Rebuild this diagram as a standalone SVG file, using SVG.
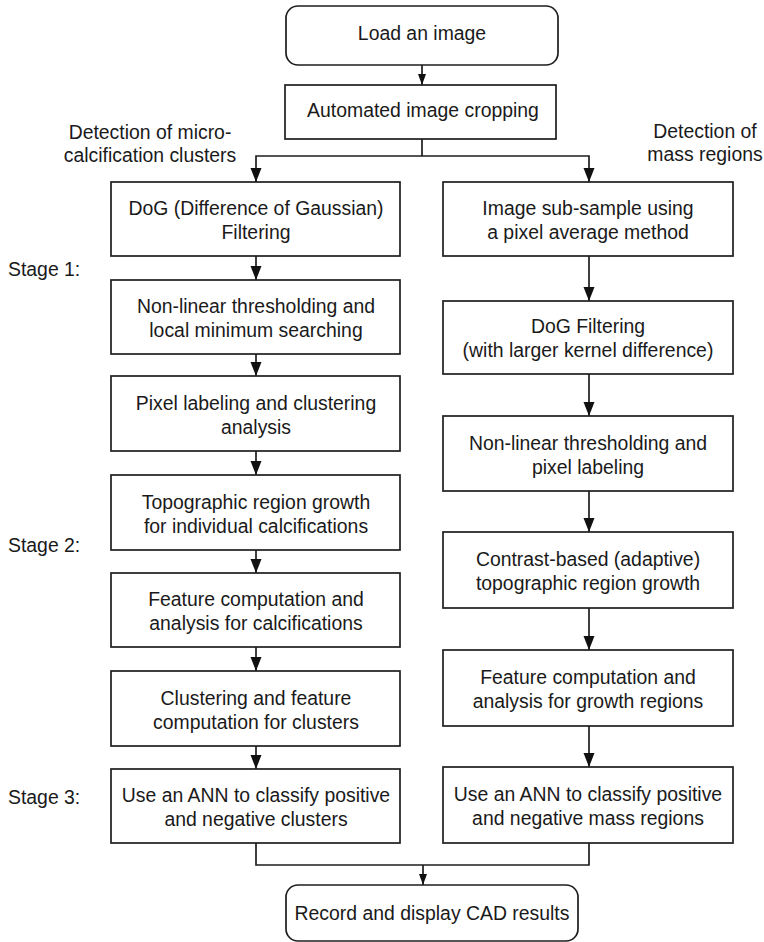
<svg xmlns="http://www.w3.org/2000/svg" width="764" height="942" viewBox="0 0 764 942">
<style>
.box{fill:#fff;stroke:#1e1e1e;stroke-width:1.7}
.t{font-family:"Liberation Sans",Arial,Helvetica,sans-serif;font-size:19.4px;fill:#1a1a1a;text-anchor:middle}
.l{font-family:"Liberation Sans",Arial,Helvetica,sans-serif;font-size:19.4px;fill:#1a1a1a}
.c{fill:none;stroke:#1e1e1e;stroke-width:1.7}
</style>
<defs>
<marker id="big" markerUnits="userSpaceOnUse" markerWidth="14" markerHeight="12" refX="14" refY="6" orient="auto">
<path d="M0,0.5 L14,6 L0,11.5 z" fill="#111"/>
</marker>
<marker id="small" markerUnits="userSpaceOnUse" markerWidth="11" markerHeight="9" refX="11" refY="4.5" orient="auto">
<path d="M0,0.5 L11,4.5 L0,8.5 z" fill="#111"/>
</marker>
</defs>
<rect width="764" height="942" fill="#fff"/>

<g id="connectors">
<path class="c" d="M422,65 V85" marker-end="url(#small)"/>
<path class="c" d="M422,139 V156"/>
<path class="c" d="M422,156 H256 V182" marker-end="url(#big)"/>
<path class="c" d="M422,156 H589 V182" marker-end="url(#big)"/>
<path class="c" d="M256,256 V280" marker-end="url(#big)"/>
<path class="c" d="M256,354 V376" marker-end="url(#big)"/>
<path class="c" d="M256,451 V475" marker-end="url(#big)"/>
<path class="c" d="M256,550 V573" marker-end="url(#big)"/>
<path class="c" d="M256,647 V671" marker-end="url(#big)"/>
<path class="c" d="M256,746 V769" marker-end="url(#big)"/>
<path class="c" d="M589,256 V301" marker-end="url(#big)"/>
<path class="c" d="M589,374 V416" marker-end="url(#big)"/>
<path class="c" d="M589,491 V532" marker-end="url(#big)"/>
<path class="c" d="M589,608 V650" marker-end="url(#big)"/>
<path class="c" d="M589,726 V767" marker-end="url(#big)"/>
<path class="c" d="M256,843 V865 H589 V843"/>
<path class="c" d="M423,865 V885" marker-end="url(#small)"/>
</g>

<g id="load">
<rect class="box" x="286" y="6" width="272" height="59" rx="12"/>
<text class="t" x="422" y="40">Load an image</text>
</g>
<g id="crop">
<rect class="box" x="285" y="85" width="271" height="54"/>
<text class="t" x="423" y="117">Automated image cropping</text>
</g>

<g id="label-micro">
<text class="t" x="150" y="139">Detection of micro-</text>
<text class="t" x="150" y="162">calcification clusters</text>
</g>
<g id="label-mass">
<text class="t" x="705" y="138">Detection of</text>
<text class="t" x="705" y="161">mass regions</text>
</g>

<g id="stage1"><text class="l" x="8" y="276">Stage 1:</text></g>
<g id="stage2"><text class="l" x="8" y="552">Stage 2:</text></g>
<g id="stage3"><text class="l" x="8" y="804">Stage 3:</text></g>

<g id="L1">
<rect class="box" x="111" y="182" width="289" height="74"/>
<text class="t" x="256" y="215">DoG (Difference of Gaussian)</text>
<text class="t" x="256" y="239">Filtering</text>
</g>
<g id="L2">
<rect class="box" x="111" y="280" width="289" height="74"/>
<text class="t" x="256" y="313">Non-linear thresholding and</text>
<text class="t" x="256" y="337">local minimum searching</text>
</g>
<g id="L3">
<rect class="box" x="111" y="376" width="289" height="75"/>
<text class="t" x="256" y="410">Pixel labeling and clustering</text>
<text class="t" x="256" y="434">analysis</text>
</g>
<g id="L4">
<rect class="box" x="111" y="475" width="289" height="75"/>
<text class="t" x="256" y="509">Topographic region growth</text>
<text class="t" x="256" y="533">for individual calcifications</text>
</g>
<g id="L5">
<rect class="box" x="111" y="573" width="289" height="74"/>
<text class="t" x="256" y="606">Feature computation and</text>
<text class="t" x="256" y="630">analysis for calcifications</text>
</g>
<g id="L6">
<rect class="box" x="111" y="671" width="289" height="75"/>
<text class="t" x="256" y="705">Clustering and feature</text>
<text class="t" x="256" y="729">computation for clusters</text>
</g>
<g id="L7">
<rect class="box" x="111" y="769" width="289" height="74"/>
<text class="t" x="256" y="802">Use an ANN to classify positive</text>
<text class="t" x="256" y="826">and negative clusters</text>
</g>

<g id="R1">
<rect class="box" x="443" y="182" width="290" height="74"/>
<text class="t" x="588" y="215">Image sub-sample using</text>
<text class="t" x="588" y="239">a pixel average method</text>
</g>
<g id="R2">
<rect class="box" x="443" y="301" width="290" height="73"/>
<text class="t" x="588" y="333">DoG Filtering</text>
<text class="t" x="588" y="357">(with larger kernel difference)</text>
</g>
<g id="R3">
<rect class="box" x="443" y="416" width="290" height="75"/>
<text class="t" x="588" y="450">Non-linear thresholding and</text>
<text class="t" x="588" y="474">pixel labeling</text>
</g>
<g id="R4">
<rect class="box" x="443" y="532" width="290" height="76"/>
<text class="t" x="588" y="566">Contrast-based (adaptive)</text>
<text class="t" x="588" y="590">topographic region growth</text>
</g>
<g id="R5">
<rect class="box" x="443" y="650" width="290" height="76"/>
<text class="t" x="588" y="684">Feature computation and</text>
<text class="t" x="588" y="708">analysis for growth regions</text>
</g>
<g id="R6">
<rect class="box" x="443" y="767" width="290" height="76"/>
<text class="t" x="588" y="801">Use an ANN to classify positive</text>
<text class="t" x="588" y="825">and negative mass regions</text>
</g>

<g id="record">
<rect class="box" x="286" y="885" width="292" height="56" rx="12"/>
<text class="t" x="432" y="920">Record and display CAD results</text>
</g>
</svg>
